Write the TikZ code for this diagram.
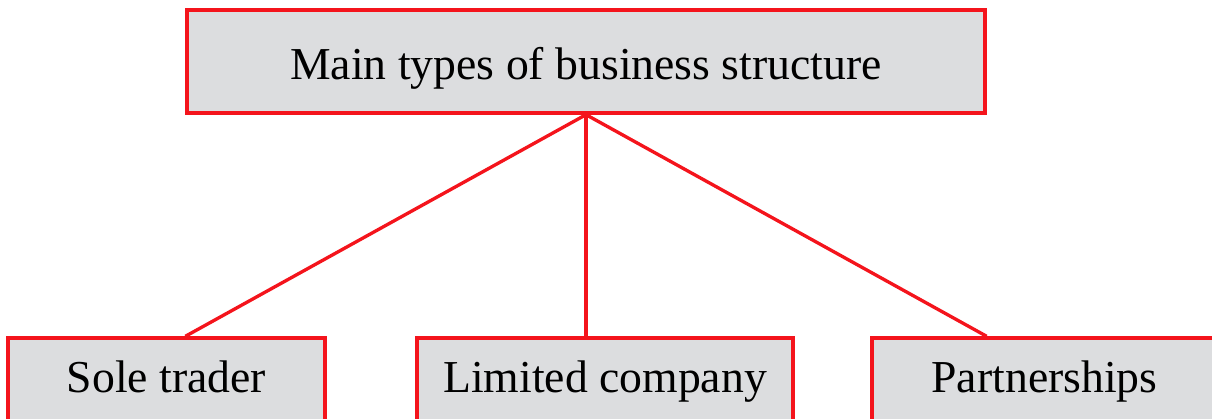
\documentclass[tikz,border=0pt]{standalone}
\usepackage{fontspec}
\setmainfont{Liberation Serif}
\usepackage{tikz}
\usetikzlibrary{positioning}
\definecolor{boxgray}{HTML}{DCDDDF}
\definecolor{boxred}{HTML}{F4141C}

\begin{document}
\begin{tikzpicture}[
  typebox/.style={draw=boxred, fill=boxgray, line width=1.9pt, inner sep=0pt,
    anchor=base, font=\fontsize{26}{30}\selectfont},
  link/.style={draw=boxred, line width=1.9pt}]
  \useasboundingbox (0,0) rectangle (24.24,8.38);

  \node[typebox, minimum width=15.96cm, text height=1.4cm, text depth=0.66cm] (main) at (11.72,6.78) {Main types of business structure};

  \node[typebox, minimum width=6.34cm, text height=1.1cm, text depth=1cm] (sole) at (3.33,0.52) {Sole trader};
  \node[typebox, minimum width=7.52cm, text height=1.1cm, text depth=1cm] (ltd) at (12.1,0.52) {Limited company};
  \node[typebox, minimum width=6.9cm, text height=1.1cm, text depth=1cm] (part) at (20.89,0.52) {Partnerships};

  \draw[link] (main.south) -- (main.west |- sole.north);
  \draw[link] (main.south) -- (main.south |- ltd.north);
  \draw[link] (main.south) -- (main.east |- part.north);
\end{tikzpicture}
\end{document}
